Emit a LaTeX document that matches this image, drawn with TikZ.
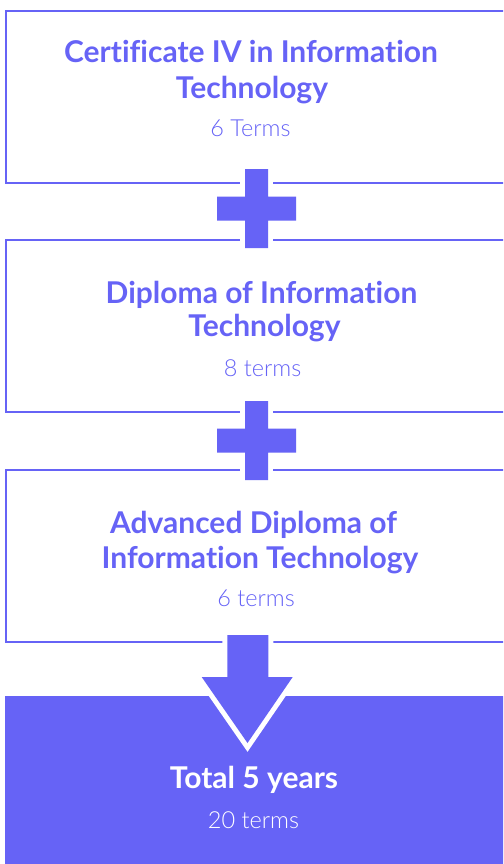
\documentclass[tikz,border=0pt]{standalone}
\usepackage{fontspec}
\setmainfont{Lato}[Ligatures=NoCommon]
\newfontfamily\lightfont{Lato Light}
\usetikzlibrary{shapes.geometric, arrows}
\definecolor{brand}{RGB}{102,99,246}
\tikzstyle{course} = [rectangle, minimum width=506pt, minimum height=172pt, draw=brand, line width=2pt]
\tikzstyle{total} = [rectangle, minimum width=520pt, minimum height=180pt, fill=brand]
\tikzstyle{title} = [text=brand, font=\fontsize{30}{36}\selectfont\bfseries, anchor=base, inner sep=0pt]
\tikzstyle{terms} = [text=brand, font=\fontsize{23.5}{28}\selectfont\lightfont, anchor=base, inner sep=0pt]
\tikzstyle{joiner} = [fill=brand, preaction={draw=white, line width=10pt}]

\begin{document}
\begin{tikzpicture}[x=1pt, y=-1pt]
			\useasboundingbox (0,0) rectangle (503,864);
			\clip (0,0) rectangle (503,864);
			\node[course] (1) at (259,97) {};
			\node[course] (2) at (259,326) {};
			\node[course] (3) at (259,556) {};
			\node[total] (4) at (265,786) {};
			
			\foreach \py in {208.5, 440.5}
			\fill[joiner, shift={(256.5,\py)}] (-11.5,-39.5) -- (11.5,-39.5) -- (11.5,-12) -- (39.5,-12) -- (39.5,12) -- (11.5,12) -- (11.5,39.5) -- (-11.5,39.5) -- (-11.5,12) -- (-39.5,12) -- (-39.5,-12) -- (-11.5,-12) -- cycle;
			
			\fill[joiner] (227.3,635) -- (268.3,635) -- (268.3,677) -- (292.7,677) -- (247.5,743) -- (201.7,677) -- (227.3,677) -- cycle;
			
			\node[title] (1a) at (251,62.5) {Certificate IV in Information};
			\node[title] (1b) at (252,98.5) {Technology};
			\node[terms] (1c) at (250.5,136) {6 Terms};
			
			\node[title] (2a) at (261.5,303.5) {Diploma of Information};
			\node[title] (2b) at (264.5,336.5) {Technology};
			\node[terms] (2c) at (262.5,376) {8 terms};
			
			\node[title] (3a) at (253.5,533.5) {Advanced Diploma of};
			\node[title] (3b) at (260,568.5) {Information Technology};
			\node[terms] (3c) at (256,606) {6 terms};
			
			\node[title, text=white] (4a) at (254,788.5) {Total 5 years};
			\node[terms, text=white] (4b) at (253.5,828) {20 terms};
			
		\end{tikzpicture}
\end{document}
